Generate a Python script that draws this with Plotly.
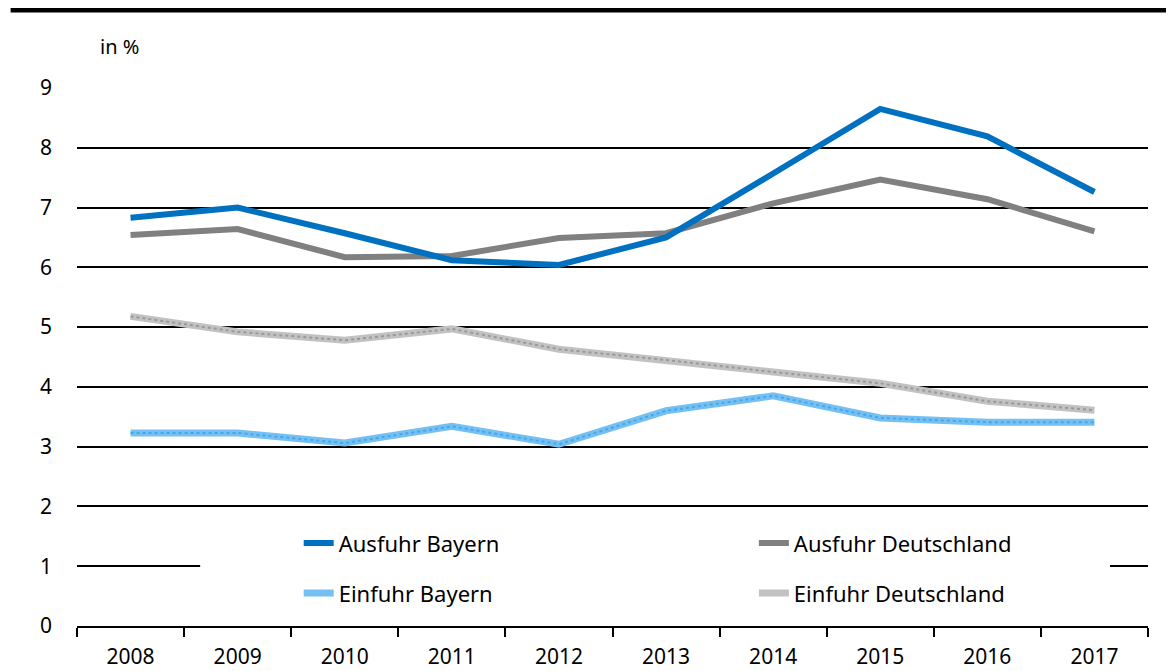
import plotly.graph_objects as go

years = ["2008", "2009", "2010", "2011", "2012", "2013", "2014", "2015", "2016", "2017"]
ausfuhr_bayern = [6.83, 7.0, 6.57, 6.12, 6.04, 6.5, 7.57, 8.65, 8.19, 7.26]
ausfuhr_deutschland = [6.54, 6.64, 6.17, 6.19, 6.49, 6.57, 7.07, 7.47, 7.14, 6.6]
einfuhr_bayern = [3.23, 3.23, 3.06, 3.34, 3.04, 3.6, 3.85, 3.48, 3.41, 3.41]
einfuhr_deutschland = [5.18, 4.92, 4.78, 4.97, 4.63, 4.45, 4.25, 4.06, 3.76, 3.61]
y_ticks = [0, 1, 2, 3, 4, 5, 6, 7, 8, 9]

FONT = "Noto Sans"

fig = go.Figure()

# Einfuhr lines: light base + dotted overlay to mimic the textured fill
fig.add_trace(go.Scatter(x=years, y=einfuhr_deutschland, mode="lines", name="Einfuhr Deutschland",
                         line=dict(color="#C2C2C2", width=7), legend="legend4"))
fig.add_trace(go.Scatter(x=years, y=einfuhr_deutschland, mode="lines", showlegend=False, hoverinfo="skip",
                         line=dict(color="#999999", width=2, dash="dot")))
fig.add_trace(go.Scatter(x=years, y=einfuhr_bayern, mode="lines", name="Einfuhr Bayern",
                         line=dict(color="#74C0F3", width=7), legend="legend3"))
fig.add_trace(go.Scatter(x=years, y=einfuhr_bayern, mode="lines", showlegend=False, hoverinfo="skip",
                         line=dict(color="#48A6E6", width=2, dash="dot")))

fig.add_trace(go.Scatter(x=years, y=ausfuhr_deutschland, mode="lines", name="Ausfuhr Deutschland",
                         line=dict(color="#808080", width=6), legend="legend2"))
fig.add_trace(go.Scatter(x=years, y=ausfuhr_bayern, mode="lines", name="Ausfuhr Bayern",
                         line=dict(color="#0070C0", width=6), legend="legend"))

# white box behind the legend that breaks the gridline at 1
fig.add_shape(type="rect", xref="paper", yref="y", x0=0.115, x1=0.9645, y0=0.4, y1=1.6,
              fillcolor="white", line=dict(width=0), layer="above")

# thick rule at the top
fig.add_shape(type="line", xref="paper", yref="paper", x0=-0.062, x1=1.03, y0=1.145, y1=1.145,
              line=dict(color="black", width=5))

fig.add_annotation(text="in %", xref="paper", yref="paper", x=0.0196, y=1.078,
                   xanchor="left", yanchor="middle", showarrow=False,
                   font=dict(family=FONT, size=20, color="black"))

leg = dict(orientation="h", xanchor="left", yanchor="middle",
           bgcolor="rgba(0,0,0,0)", font=dict(family=FONT, size=22))

fig.update_layout(
    width=1174, height=671,
    margin=dict(l=69, r=34, t=80, b=53, autoexpand=False),
    paper_bgcolor="white", plot_bgcolor="white",
    font=dict(family=FONT, size=20, color="black"),
    showlegend=True,
    legend=dict(leg, x=0.207, y=0.154),
    legend2=dict(leg, x=0.632, y=0.154),
    legend3=dict(leg, x=0.207, y=0.061),
    legend4=dict(leg, x=0.632, y=0.061),
)

fig.update_xaxes(type="category", range=[-0.5, 9.5], showgrid=False,
                 showline=True, linecolor="black", linewidth=2,
                 ticks="outside", tickson="boundaries", ticklen=9, tickwidth=2, tickcolor="black",
                 ticklabelstandoff=11, tickfont=dict(family=FONT, size=21), automargin=False)
fig.update_yaxes(range=[0, 9], tickvals=y_ticks, showgrid=True, gridcolor="black", gridwidth=1.8,
                 zeroline=False, showline=False, ticks="", ticklabelstandoff=24,
                 tickfont=dict(family=FONT, size=21), automargin=False)

fig.write_html("out.html")
